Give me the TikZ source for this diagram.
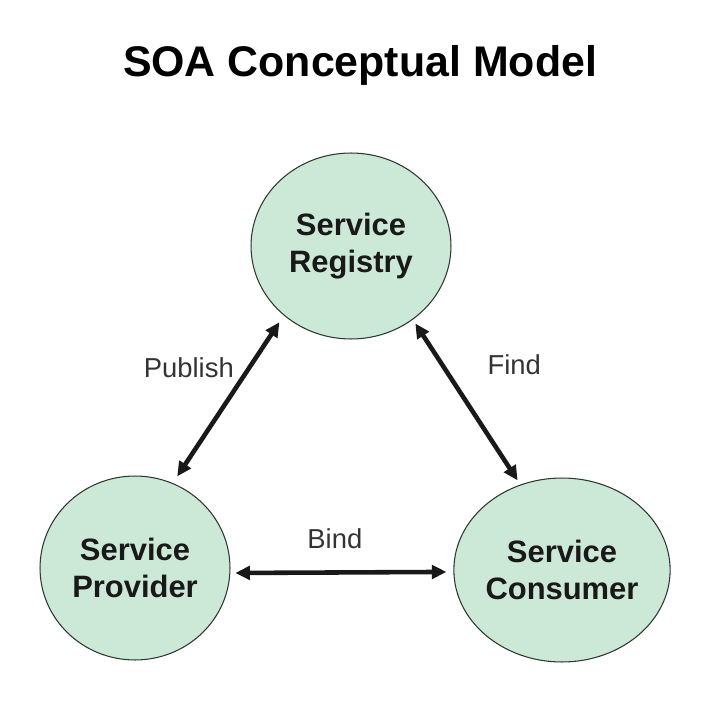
\documentclass[tikz,border=0pt]{standalone}
\usepackage{fontspec}
\setmainfont{Liberation Sans}
\usepackage{tikz}
\usetikzlibrary{arrows.meta,shapes.geometric}

\definecolor{soagreen}{RGB}{204,232,214}
\definecolor{soaedge}{RGB}{45,55,50}

\tikzset{
    service/.style={ellipse, draw=soaedge, line width=0.6pt, fill=soagreen,
        minimum width=3.8cm, minimum height=3.68cm, inner sep=0pt, align=center,
        font=\fontsize{17.6}{21}\selectfont\bfseries, text=black!90},
    link/.style={{Triangle[length=0.29cm,width=0.27cm]}-{Triangle[length=0.29cm,width=0.27cm]},
        line width=2.6pt, draw=black!90},
    lbl/.style={font=\fontsize{15.6}{18}\selectfont, text=black!80}
}

\begin{document}
\begin{tikzpicture}[x=0.02cm, y=-0.02cm]
                    \useasboundingbox (0,0) rectangle (724,720);
                    \node[font=\fontsize{24.4}{28}\selectfont\bfseries, anchor=base] (title) at (360,76) {SOA Conceptual Model};

                    \node[service, minimum width=4cm, minimum height=3.72cm] (reg) at (351,246) {Service\\Registry};
                    \node[service] (prov) at (135,568) {Service\\Provider};
                    \node[service] (cons) at (562,570) {Service\\Consumer};

                    \draw[link, shorten <=0.16cm, shorten >=0.16cm] (prov.66) -- (reg.226.5) node[lbl, pos=0.69, left=0.15cm] (pub) {Publish};
                    \draw[link, shorten <=0.09cm, shorten >=0.1cm] (reg.310.1) -- (cons.116.5) node[lbl, pos=0.27, right=0.75cm] (find) {Find};
                    \draw[link, shorten <=0.1cm, shorten >=0.14cm] (prov.357.3) -- (cons.181.5) node[lbl, midway, above=0.31cm, xshift=-0.14cm] (bind) {Bind};
                \end{tikzpicture}
\end{document}
